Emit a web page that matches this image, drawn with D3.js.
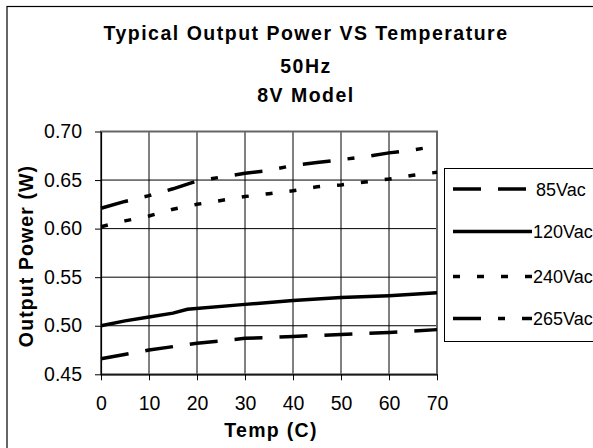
<!DOCTYPE html>
<html>
<head>
<meta charset="utf-8">
<script src="https://cdn.jsdelivr.net/npm/d3@7"></script>
<style>
  body { margin: 0; background: #fff; }
  svg { display: block; font-family: "Liberation Sans", Arial, sans-serif; }
</style>
</head>
<body>
<svg id="chart" width="593" height="448"></svg>
<script>
// data
const seriesNames = ['85Vac', '120Vac', '240Vac', '265Vac'];
const temps85 = [0, 10, 20, 30, 40, 50, 60, 70];
const power85 = [0.466, 0.475, 0.482, 0.487, 0.489, 0.491, 0.493, 0.496];
const temps120 = [0, 5, 10, 15, 18, 30, 40, 50, 60, 70];
const power120 = [0.500, 0.505, 0.509, 0.513, 0.517, 0.522, 0.526, 0.529, 0.531, 0.534];
const temps240 = [0, 5, 10, 15, 20, 25, 30, 35, 40, 45, 50, 55, 60, 65, 70];
const power240 = [0.602, 0.608, 0.613, 0.620, 0.625, 0.629, 0.633, 0.636, 0.639, 0.643, 0.645, 0.648, 0.651, 0.655, 0.658];
const temps265 = [0, 5, 10, 15, 20, 25, 30, 35, 40, 45, 50, 55, 60, 65, 70];
const power265 = [0.621, 0.628, 0.634, 0.641, 0.649, 0.653, 0.657, 0.660, 0.665, 0.668, 0.671, 0.674, 0.678, 0.681, 0.685];
const xTicks = [0, 10, 20, 30, 40, 50, 60, 70];
const yTicks = [0.45, 0.50, 0.55, 0.60, 0.65, 0.70];

const dashes = ['28,17', null, '7,17', '28,17,7,17'];
const series = [
  {name: seriesNames[0], t: temps85, p: power85},
  {name: seriesNames[1], t: temps120, p: power120},
  {name: seriesNames[2], t: temps240, p: power240},
  {name: seriesNames[3], t: temps265, p: power265}
];

const svg = d3.select('#chart');
const x = d3.scaleLinear().domain([0, 70]).range([101, 437]);
const y = d3.scaleLinear().domain([0.45, 0.70]).range([374.3, 131.5]);

// chart frame (runs off the right and bottom edges)
svg.append('rect')
  .attr('x', 7).attr('y', 6.5).attr('width', 640).attr('height', 480)
  .attr('fill', '#fff').attr('stroke', '#000').attr('stroke-width', 1.2);

// title
const titleLines = ['Typical Output Power VS Temperature', '50Hz', '8V Model'];
svg.append('g').selectAll('text')
  .data(titleLines)
  .join('text')
  .attr('x', 306)
  .attr('y', (d, i) => [40, 73, 102][i])
  .attr('text-anchor', 'middle')
  .attr('font-size', 19.5)
  .attr('font-weight', 'bold')
  .attr('letter-spacing', 1.5)
  .text(d => d);

// gridlines
svg.append('g').selectAll('line')
  .data(xTicks.slice(1, -1))
  .join('line')
  .attr('x1', d => x(d)).attr('x2', d => x(d))
  .attr('y1', y(0.70)).attr('y2', y(0.45))
  .attr('stroke', '#000').attr('stroke-width', 1);
svg.append('g').selectAll('line')
  .data(yTicks.slice(1, -1))
  .join('line')
  .attr('x1', x(0)).attr('x2', x(70))
  .attr('y1', d => y(d)).attr('y2', d => y(d))
  .attr('stroke', '#000').attr('stroke-width', 1);

// plot area border
svg.append('rect')
  .attr('x', x(0)).attr('y', y(0.70))
  .attr('width', x(70) - x(0)).attr('height', y(0.45) - y(0.70))
  .attr('fill', 'none').attr('stroke', '#666').attr('stroke-width', 2);

// axes
const xAxis = svg.append('g')
  .attr('transform', `translate(0,${y(0.45)})`)
  .call(d3.axisBottom(x).tickValues(xTicks).tickFormat(d3.format('d')).tickSizeInner(6).tickSizeOuter(0).tickPadding(16));
const yAxis = svg.append('g')
  .attr('transform', `translate(${x(0)},0)`)
  .call(d3.axisLeft(y).tickValues(yTicks).tickFormat(d3.format('.2f')).tickSizeInner(6).tickSizeOuter(0).tickPadding(13));
[xAxis, yAxis].forEach(a => {
  a.select('.domain').attr('stroke', '#000').attr('stroke-width', 1.2);
  a.selectAll('.tick line').attr('stroke', '#000');
  a.selectAll('.tick text')
    .attr('font-family', '"Liberation Sans", Arial, sans-serif')
    .attr('font-size', 19.5).attr('fill', '#000');
});

// axis titles
svg.append('text')
  .attr('x', 271).attr('y', 437)
  .attr('text-anchor', 'middle')
  .attr('font-size', 19.5).attr('font-weight', 'bold')
  .attr('letter-spacing', 1.3)
  .text('Temp (C)');
svg.append('text')
  .attr('transform', 'translate(33,256) rotate(-90)')
  .attr('text-anchor', 'middle')
  .attr('font-size', 19.5).attr('font-weight', 'bold')
  .attr('letter-spacing', 1.1)
  .text('Output Power (W)');

// series lines
const line = d3.line().x(d => x(d[0])).y(d => y(d[1]));
svg.append('g').selectAll('path')
  .data(series)
  .join('path')
  .attr('d', s => line(s.t.map((t, i) => [t, s.p[i]])))
  .attr('fill', 'none')
  .attr('stroke', '#000')
  .attr('stroke-width', 3.5)
  .attr('stroke-dasharray', (s, i) => dashes[i]);

// legend
const legend = svg.append('g');
legend.append('rect')
  .attr('x', 444.5).attr('y', 168.5).attr('width', 200).attr('height', 173)
  .attr('fill', '#fff').attr('stroke', '#000').attr('stroke-width', 1);
const legendY = [189, 231.5, 276.5, 318.5];
const item = legend.selectAll('g.item')
  .data(series)
  .join('g')
  .attr('class', 'item')
  .attr('transform', (d, i) => `translate(0,${legendY[i]})`);
item.append('line')
  .attr('x1', 453).attr('x2', 532)
  .attr('stroke', '#000').attr('stroke-width', 3.5)
  .attr('stroke-dasharray', (d, i) => dashes[i]);
item.append('text')
  .attr('x', (d, i) => i === 0 ? 536 : 533)
  .attr('y', 6.5)
  .attr('font-size', 18)
  .attr('letter-spacing', (d, i) => 0)
  .text(d => d.name);
</script>
</body>
</html>
